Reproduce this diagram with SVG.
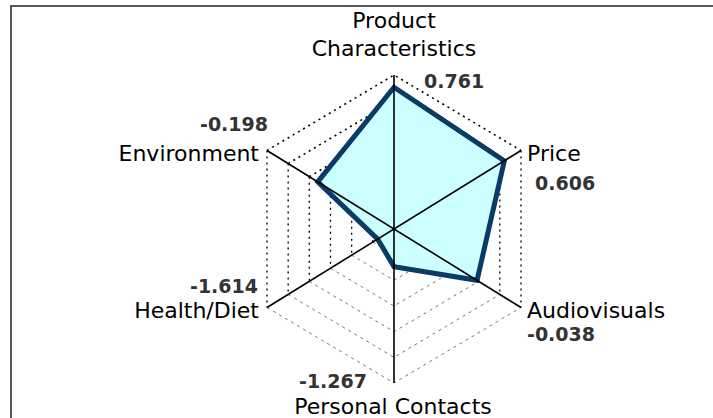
<svg xmlns="http://www.w3.org/2000/svg" width="713" height="418" viewBox="0 0 713 418">
<style>
.lbl{font-family:"DejaVu Sans","Liberation Sans",sans-serif;font-size:22px;fill:#000}
.val{font-family:"DejaVu Sans","Liberation Sans",sans-serif;font-size:19px;font-weight:bold;fill:#333}
.gu{fill:none;stroke:#000;stroke-width:1.6;stroke-dasharray:2 4}
.gv{fill:none;stroke:#000;stroke-width:1.3;stroke-dasharray:2 4}
.gl{fill:none;stroke:#777;stroke-width:1;stroke-dasharray:3 4}
.axis{stroke:#000;stroke-width:1.6;fill:none}
</style>
<rect width="713" height="418" fill="#fff"/>
<path d="M11,418 V6 H713" fill="none" stroke="#222" stroke-width="1.5"/>
<g id="grid">
<polyline class="gu" points="267,150.5 394,75 521,150.5"/>
<polyline class="gu" points="288.17,163.58 394,100.67 499.83,163.58"/>
<polyline class="gu" points="309.33,176.67 394,126.33 478.67,176.67"/>
<polyline class="gu" points="330.5,189.75 394,152 457.5,189.75"/>
<polyline class="gu" points="351.67,202.83 394,177.67 436.33,202.83"/>
<polyline class="gu" points="372.83,215.92 394,203.33 415.17,215.92"/>
<path class="gv" d="M267,150.5V307.5M288.17,163.58V294.42M309.33,176.67V281.33M330.5,189.75V268.25M351.67,202.83V255.17M372.83,215.92V242.08"/>
<path class="gv" d="M521,150.5V307.5M499.83,163.58V294.42M478.67,176.67V281.33M457.5,189.75V268.25M436.33,202.83V255.17M415.17,215.92V242.08"/>
<polyline class="gl" points="267,307.5 394,383 521,307.5"/>
<polyline class="gl" points="288.17,294.42 394,357.33 499.83,294.42"/>
<polyline class="gl" points="309.33,281.33 394,331.67 478.67,281.33"/>
<polyline class="gl" points="330.5,268.25 394,306 457.5,268.25"/>
<polyline class="gl" points="351.67,255.17 394,280.33 436.33,255.17"/>
<polyline class="gl" points="372.83,242.08 394,254.67 415.17,242.08"/>
</g>
<g id="data">
<polygon points="394,87.27 504.32,160.81 477.06,280.34 394,266.63 377.66,239.1 317.71,181.85" fill="#ccffff" stroke="#0a3a68" stroke-width="5" stroke-linejoin="miter"/>
</g>
<g id="connectors">
<line class="axis" x1="394" y1="75" x2="394" y2="383"/>
<line class="axis" x1="267" y1="150.5" x2="521" y2="307.5"/>
<line class="axis" x1="521" y1="150.5" x2="267" y2="307.5"/>
</g>
<g id="node-product">
<text class="lbl" x="394" y="28" text-anchor="middle">Product</text>
<text class="lbl" x="394" y="56" text-anchor="middle">Characteristics</text>
<text class="val" x="424" y="88">0.761</text>
</g>
<g id="node-price">
<text class="lbl" x="527" y="161">Price</text>
<text class="val" x="535" y="190">0.606</text>
</g>
<g id="node-audiovisuals">
<text class="lbl" x="527" y="318">Audiovisuals</text>
<text class="val" x="527" y="341">-0.038</text>
</g>
<g id="node-personal">
<text class="val" x="367" y="388" text-anchor="end">-1.267</text>
<text class="lbl" x="393" y="414" text-anchor="middle">Personal Contacts</text>
</g>
<g id="node-health">
<text class="val" x="258" y="293" text-anchor="end">-1.614</text>
<text class="lbl" x="259" y="318" text-anchor="end">Health/Diet</text>
</g>
<g id="node-environment">
<text class="val" x="268" y="131" text-anchor="end">-0.198</text>
<text class="lbl" x="259" y="161" text-anchor="end">Environment</text>
</g>
</svg>
